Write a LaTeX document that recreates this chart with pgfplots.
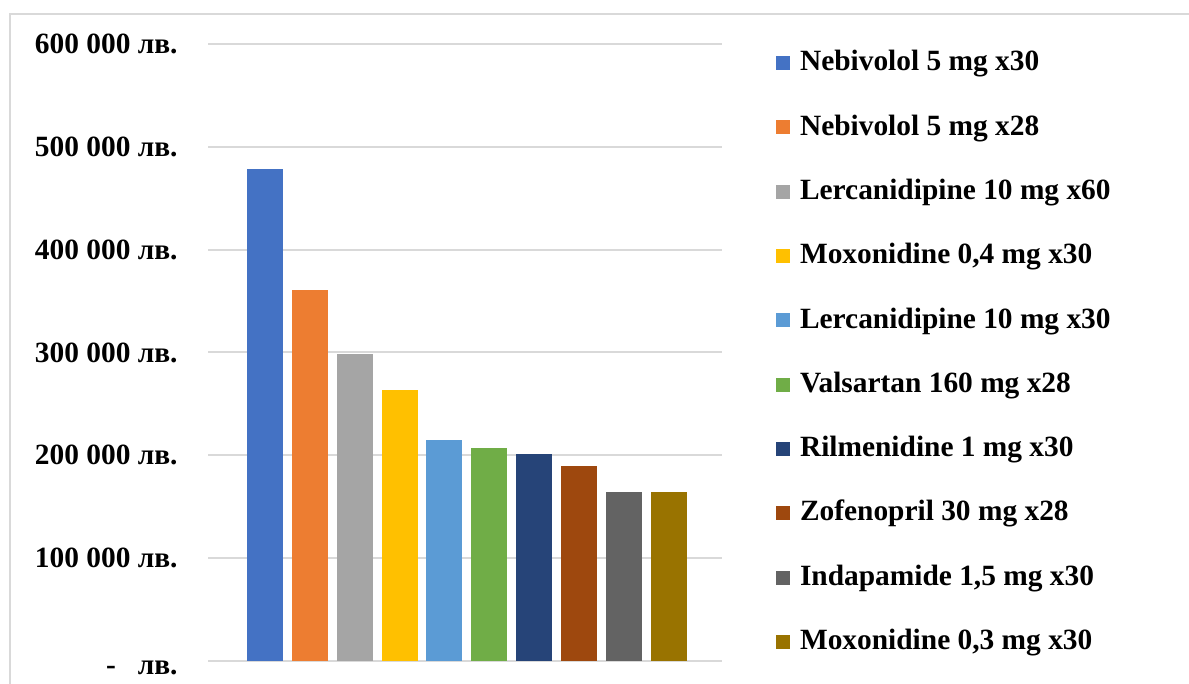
\documentclass[border=0pt]{standalone}
\usepackage{pgfplots}
\pgfplotsset{compat=1.18}
\usepackage{fontspec}
\setmainfont{Liberation Serif}
\definecolor{c1}{HTML}{4472C4}
\definecolor{c2}{HTML}{ED7D31}
\definecolor{c3}{HTML}{A5A5A5}
\definecolor{c4}{HTML}{FFC000}
\definecolor{c5}{HTML}{5B9BD5}
\definecolor{c6}{HTML}{70AD47}
\definecolor{c7}{HTML}{264478}
\definecolor{c8}{HTML}{9E480E}
\definecolor{c9}{HTML}{636363}
\definecolor{c10}{HTML}{997300}
\definecolor{gridgray}{HTML}{D9D9D9}
\newcommand{\lblfont}{\fontsize{14.7}{17}\selectfont\bfseries}
\begin{document}
\begin{tikzpicture}
\useasboundingbox (0pt,0pt) rectangle (594.5pt,342pt);
\draw[gridgray, line width=0.85pt] (5pt,-2pt) -- (5pt,335pt) -- (600pt,335pt);
\begin{axis}[
  at={(104pt,11.5pt)}, anchor=south west,
  scale only axis, width=257pt, height=308.5pt,
  xmin=-1.27, xmax=10.19, ymin=0, ymax=600000,
  xtick=\empty,
  ytick={0,100000,200000,300000,400000,500000,600000},
  yticklabels={{\smash{\raisebox{-7pt}{-\hspace{11pt}лв.}}},{100 000 лв.},{200 000 лв.},{300 000 лв.},{400 000 лв.},{500 000 лв.},{600 000 лв.}},
  yticklabel style={font=\lblfont, anchor=east, inner sep=0pt, xshift=-15pt},
  ymajorgrids, grid style={gridgray, line width=1pt},
  axis line style={draw=none}, tick style={draw=none},
  scaled y ticks=false,
  clip=false,
  legend cell align=left,
  legend image code/.code={\fill[#1] (0pt,-3.15pt) rectangle (7pt,3.85pt);},
  legend style={at={(1.1051,0.9905)}, anchor=north west, draw=none, fill=none,
    inner sep=0pt, outer sep=0pt, row sep=18.15pt,
    nodes={inner sep=0pt, text height=10.5pt, text depth=3.5pt, font=\lblfont},
    /tikz/column 1/.style={column sep=5pt}},
]
\addplot[ybar, bar width=18pt, fill=c1, draw=none] coordinates {(0,478000)};
\addplot[ybar, bar width=18pt, fill=c2, draw=none] coordinates {(1,361000)};
\addplot[ybar, bar width=18pt, fill=c3, draw=none] coordinates {(2,299000)};
\addplot[ybar, bar width=18pt, fill=c4, draw=none] coordinates {(3,264000)};
\addplot[ybar, bar width=18pt, fill=c5, draw=none] coordinates {(4,215000)};
\addplot[ybar, bar width=18pt, fill=c6, draw=none] coordinates {(5,207000)};
\addplot[ybar, bar width=18pt, fill=c7, draw=none] coordinates {(6,201000)};
\addplot[ybar, bar width=18pt, fill=c8, draw=none] coordinates {(7,190000)};
\addplot[ybar, bar width=18pt, fill=c9, draw=none] coordinates {(8,164000)};
\addplot[ybar, bar width=18pt, fill=c10, draw=none] coordinates {(9,164000)};
\legend{Nebivolol 5 mg x30, Nebivolol 5 mg x28, Lercanidipine 10 mg x60, Moxonidine 0{,}4 mg x30, Lercanidipine 10 mg x30, Valsartan 160 mg x28, Rilmenidine 1 mg x30, Zofenopril 30 mg x28, Indapamide 1{,}5 mg x30, Moxonidine 0{,}3 mg x30}
\end{axis}
\end{tikzpicture}
\end{document}
